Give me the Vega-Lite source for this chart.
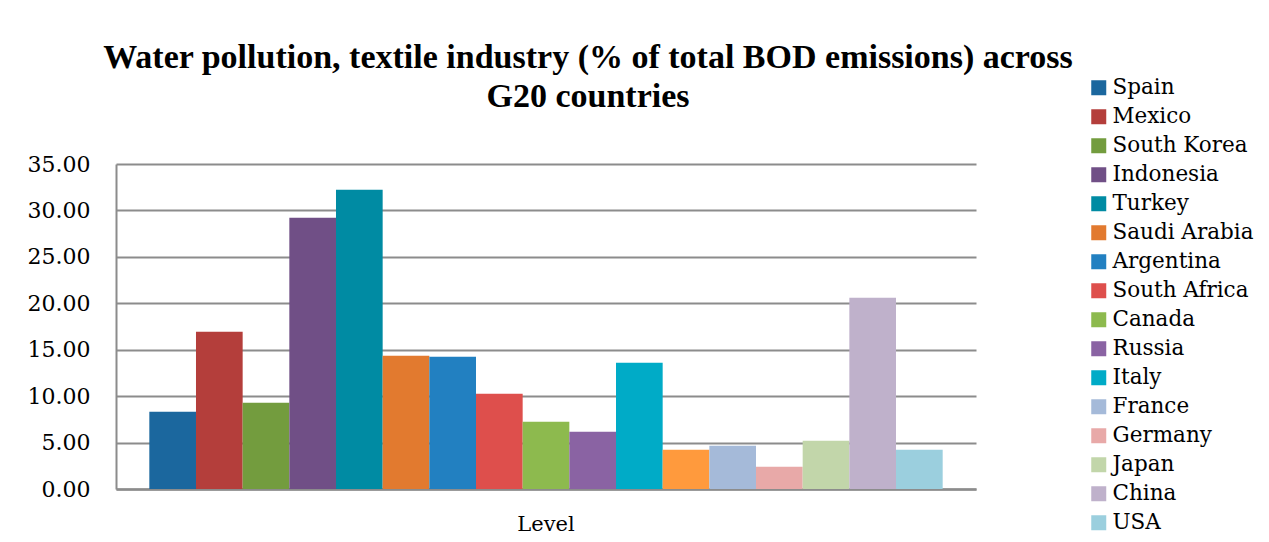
{
  "$schema": "https://vega.github.io/schema/vega-lite/v6.json",
  "width": 860,
  "height": 325,
  "autosize": {"type": "none"},
  "padding": {"left": 116, "top": 164, "right": 293, "bottom": 53},
  "background": "white",
  "title": {
    "text": ["Water pollution, textile industry (% of total BOD emissions) across", "G20 countries"],
    "font": "Liberation Serif",
    "fontSize": 34,
    "fontWeight": "bold",
    "lineHeight": 39,
    "color": "black",
    "anchor": "middle",
    "frame": "group",
    "dx": 42,
    "offset": -37
  },
  "data": {
    "values": [
      {"category": "Level", "country": "Spain", "value": 8.32},
      {"category": "Level", "country": "Mexico", "value": 16.94},
      {"category": "Level", "country": "South Korea", "value": 9.29},
      {"category": "Level", "country": "Indonesia", "value": 29.22},
      {"category": "Level", "country": "Turkey", "value": 32.23},
      {"category": "Level", "country": "Saudi Arabia", "value": 14.36},
      {"category": "Level", "country": "Argentina", "value": 14.25},
      {"category": "Level", "country": "South Africa", "value": 10.26},
      {"category": "Level", "country": "Canada", "value": 7.25},
      {"category": "Level", "country": "Russia", "value": 6.17},
      {"category": "Level", "country": "Italy", "value": 13.6},
      {"category": "Level", "country": "United Kingdom", "value": 4.23},
      {"category": "Level", "country": "France", "value": 4.66},
      {"category": "Level", "country": "Germany", "value": 2.4},
      {"category": "Level", "country": "Japan", "value": 5.2},
      {"category": "Level", "country": "China", "value": 20.6},
      {"category": "Level", "country": "USA", "value": 4.23}
    ]
  },
  "mark": {"type": "bar"},
  "encoding": {
    "x": {
      "field": "category",
      "type": "nominal",
      "scale": {"paddingInner": 0, "paddingOuter": 0.042},
      "axis": {
        "title": null,
        "labelAngle": 0,
        "labelFont": "DejaVu Serif",
        "labelFontSize": 21,
        "labelColor": "black",
        "labelPadding": 24,
        "ticks": false,
        "domainColor": "#8c8c8c",
        "domainWidth": 2.5
      }
    },
    "xOffset": {
      "field": "country",
      "type": "nominal",
      "sort": ["Spain", "Mexico", "South Korea", "Indonesia", "Turkey", "Saudi Arabia", "Argentina", "South Africa", "Canada", "Russia", "Italy", "United Kingdom", "France", "Germany", "Japan", "China", "USA"],
      "scale": {"paddingInner": 0, "paddingOuter": 0}
    },
    "y": {
      "field": "value",
      "type": "quantitative",
      "scale": {"domain": [0, 35], "nice": false},
      "axis": {
        "title": null,
        "values": [0, 5, 10, 15, 20, 25, 30, 35],
        "format": ".2f",
        "labelFont": "DejaVu Serif",
        "labelFontSize": 22,
        "labelColor": "black",
        "labelPadding": 26,
        "ticks": false,
        "domainColor": "#8c8c8c",
        "domainWidth": 2,
        "gridColor": "#8c8c8c",
        "gridWidth": 2,
        "gridOpacity": 1
      }
    },
    "color": {
      "field": "country",
      "type": "nominal",
      "scale": {
        "domain": ["Spain", "Mexico", "South Korea", "Indonesia", "Turkey", "Saudi Arabia", "Argentina", "South Africa", "Canada", "Russia", "Italy", "United Kingdom", "France", "Germany", "Japan", "China", "USA"],
        "range": ["#1B679E", "#B43E3B", "#739C3E", "#704F86", "#008BA3", "#E27A2F", "#2280C1", "#DE4F4C", "#8DBA4E", "#8A63A3", "#00ABC7", "#FF9A3D", "#A5BAD9", "#E8A9A8", "#C2D6AA", "#BFB1CB", "#9BCFDE"]
      },
      "legend": {
        "title": null,
        "values": ["Spain", "Mexico", "South Korea", "Indonesia", "Turkey", "Saudi Arabia", "Argentina", "South Africa", "Canada", "Russia", "Italy", "France", "Germany", "Japan", "China", "USA"],
        "orient": "none",
        "legendX": 972,
        "legendY": -87,
        "symbolType": "square",
        "symbolSize": 225,
        "symbolStrokeWidth": 0,
        "labelFont": "DejaVu Serif",
        "labelFontSize": 21.5,
        "labelColor": "black",
        "labelOffset": 3,
        "rowPadding": 6,
        "labelLimit": 300
      }
    }
  },
  "config": {
    "view": {"stroke": null},
    "axis": {"gridCap": "butt"}
  }
}
